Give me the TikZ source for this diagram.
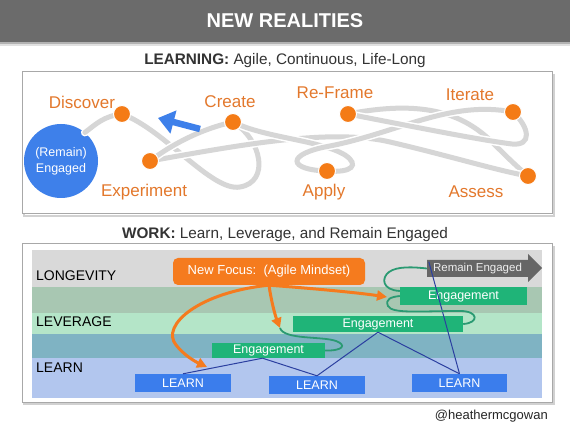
\documentclass[tikz,border=0pt]{standalone}
\usepackage{fontspec}
\setmainfont{Liberation Sans}
\usetikzlibrary{arrows.meta,calc}
\definecolor{barGrey}{HTML}{6B6B6B}
\definecolor{headText}{HTML}{333333}
\definecolor{frameGrey}{HTML}{A8A8A8}
\definecolor{tangleGrey}{HTML}{D6D6D6}
\definecolor{dotOrange}{HTML}{F47B16}
\definecolor{labOrange}{HTML}{E3782C}
\definecolor{engBlue}{HTML}{3E80EA}
\definecolor{bandGrey}{HTML}{D9D9D9}
\definecolor{bandSage}{HTML}{A8C7B2}
\definecolor{bandMint}{HTML}{B4E5C8}
\definecolor{bandTeal}{HTML}{7FB3C3}
\definecolor{bandBlue}{HTML}{B2C6EE}
\definecolor{focusOrange}{HTML}{F57B1E}
\definecolor{arrGrey}{HTML}{666666}
\definecolor{boxGreen}{HTML}{1FB478}
\definecolor{loopGreen}{HTML}{2A9A72}
\definecolor{learnBlue}{HTML}{3B7DEC}
\definecolor{navyLine}{HTML}{2B3FA0}
\begin{document}
\begin{tikzpicture}[x=1pt,y=-1pt,
  tangle/.style={draw=tangleGrey, line width=5pt, line cap=round,
    preaction={draw=white, line width=8pt, line cap=round}},
  dot/.style={circle, fill=dotOrange, draw=white, line width=1pt, minimum size=17pt, inner sep=0pt},
  lab/.style={text=labOrange, font=\fontsize{17}{19}\selectfont, inner sep=0pt},
  frame/.style={draw=frameGrey, line width=1pt, fill=white},
  bandlab/.style={anchor=west, font=\fontsize{14}{16}\selectfont, text=black, inner sep=0pt},
  greenbox/.style={fill=boxGreen, text=white, font=\fontsize{12.5}{14}\selectfont, inner sep=0pt},
  learnbox/.style={fill=learnBlue, text=white, font=\fontsize{12.5}{14}\selectfont, inner sep=0pt,
    minimum width=96pt, minimum height=18pt},
  orangearrow/.style={draw=focusOrange, line width=3pt, -{Triangle[length=10pt,width=10pt]}},
  greenloop/.style={draw=loopGreen, line width=1.8pt},
  navy/.style={draw=navyLine, line width=1pt}
]
\useasboundingbox (0,0) rectangle (570,427);
\fill[white] (0,0) rectangle (570,427);

% title bar
\fill[black!12] (0,42) rectangle (570,46);
\fill[black!30] (0,42) rectangle (570,44);
\fill[barGrey] (0,0) rectangle (570,42);
\node[text=white, font=\fontsize{20}{22}\selectfont\bfseries] (title) at (285,21) {NEW REALITIES};

% learning section
\node[text=headText, font=\fontsize{15.3}{17}\selectfont] (h1) at (285,61) {\textbf{LEARNING:} Agile, Continuous, Life-Long};
\draw[black!18, line width=2pt] (24,75) rectangle (554,216);
\draw[frame] (22,72) rectangle (552,214);

\node[circle, fill=engBlue, minimum size=74pt, inner sep=0pt, align=center, text=white,
  font=\fontsize{12.5}{16}\selectfont] (eng) at (61,161) {(Remain)\\Engaged};

\coordinate (dDiscoverP) at (122,114);
\coordinate (dCreateP) at (233,122);
\coordinate (dExperimentP) at (150,161);
\coordinate (dReframeP) at (348,114);
\coordinate (dIterateP) at (513,112);
\coordinate (dApplyP) at (327,171);
\coordinate (dAssessP) at (528,176);

% tangle of paths
\draw[tangle] (eng.50) .. controls (96,124) and (104,116) .. (dDiscoverP);
\draw[tangle] (dDiscoverP) .. controls (165,130) and (212,192) .. (240,187) .. controls (270,182) and (262,140) .. (dCreateP);
\draw[tangle] (dReframeP) .. controls (420,100) and (460,112) .. (490,140) .. controls (505,155) and (515,165) .. (dAssessP);
\draw[tangle] (dExperimentP) .. controls (240,145) and (330,128) .. (390,142) .. controls (450,156) and (495,170) .. (dAssessP);
\draw[tangle] (dCreateP) .. controls (265,138) and (320,140) .. (345,155) .. controls (360,165) and (352,173) .. (dApplyP);
\draw[tangle] (dIterateP) .. controls (450,100) and (400,132) .. (330,146) .. controls (285,154) and (288,170) .. (dApplyP);
\draw[tangle] (dReframeP) .. controls (420,128) and (480,140) .. (512,144) .. controls (532,146) and (530,128) .. (dIterateP);
\draw[tangle] (dCreateP) .. controls (205,128) and (175,142) .. (dExperimentP);

\node[dot] (dDiscover) at (dDiscoverP) {};
\node[dot] (dCreate) at (dCreateP) {};
\node[dot] (dExperiment) at (dExperimentP) {};
\node[dot] (dReframe) at (dReframeP) {};
\node[dot] (dIterate) at (dIterateP) {};
\node[dot] (dApply) at (dApplyP) {};
\node[dot] (dAssess) at (dAssessP) {};

\node[lab] (lDiscover) at (82,102) {Discover};
\node[lab] (lCreate) at (230,102) {Create};
\node[lab] (lExperiment) at (144,192) {Experiment};
\node[lab] (lReframe) at (335,93) {Re-Frame};
\node[lab] (lIterate) at (470,95) {Iterate};
\node[lab] (lApply) at (324,192) {Apply};
\node[lab] (lAssess) at (476,192) {Assess};

\coordinate (bTail) at (200,129);
\coordinate (bTip) at (158,118);
\draw[engBlue, line width=6.5pt, -{Triangle[length=16pt,width=23pt]}] (bTail) -- (bTip);

% work section
\node[text=headText, font=\fontsize{15.3}{17}\selectfont] (h2) at (285,235) {\textbf{WORK:} Learn, Leverage, and Remain Engaged};
\draw[black!18, line width=2pt] (24,247) rectangle (554,404);
\draw[frame] (22,244) rectangle (552,402);

\fill[bandGrey] (32,250) rectangle (542,287);
\fill[bandSage] (32,287) rectangle (542,313);
\fill[bandMint] (32,313) rectangle (542,334);
\fill[bandTeal] (32,334) rectangle (542,358);
\fill[bandBlue] (32,358) rectangle (542,398);

\node[bandlab] (tLong) at (36,276) {LONGEVITY};
\node[bandlab] (tLev) at (36,322) {LEVERAGE};
\node[bandlab] (tLearn) at (36,368) {LEARN};

\node[fill=focusOrange, rounded corners=5pt, minimum width=192pt, minimum height=27pt, inner sep=0pt,
  text=white, font=\fontsize{13}{15}\selectfont] (focus) at (269,271.5) {New Focus:\ \ (Agile Mindset)};

\fill[arrGrey] (427,260) -- (528,260) -- (528,254) -- (542,268) -- (528,282) -- (528,277) -- (427,277) -- cycle;
\node[minimum width=101pt, minimum height=17pt, inner sep=0pt, text=white!93!black,
  font=\fontsize{11.5}{13}\selectfont] (remain) at (477.5,268.5) {Remain Engaged};

\node[greenbox, minimum width=127pt, minimum height=18pt] (E1) at (463.5,296) {Engagement};
\node[greenbox, minimum width=170pt, minimum height=16pt] (E2) at (378,324) {Engagement};
\node[greenbox, minimum width=113pt, minimum height=15pt] (E3) at (268.5,350.5) {Engagement};

\node[learnbox] (L1) at (183,383) {LEARN};
\node[learnbox] (L2) at (317,385) {LEARN};
\node[learnbox, minimum width=95pt] (L3) at (459.5,383) {LEARN};

% navy lines
\coordinate (vE3) at ($(E3.south)+(-6,0)$);
\draw[navy] (L1.north) -- (vE3);
\draw[navy] (vE3) -- (L2.north);
\draw[navy] (L2.north) -- (E2.south);
\draw[navy] (E2.south) -- (L3.north);
\draw[navy] (L3.north) -- ($(remain.north west)+(2,2)$);

% orange arrows
\coordinate (a1end) at (207,367);
\coordinate (a2end) at (280,328);
\coordinate (a3end) at (387,297);
\draw[orangearrow] (focus.south) .. controls (200,292) and (160,325) .. (176,345) .. controls (184,355) and (194,361) .. (a1end);
\draw[orangearrow] (focus.south) .. controls (271,300) and (275,315) .. (a2end);
\draw[orangearrow] (focus.south) .. controls (320,289) and (360,293) .. (a3end);

% green loops
\draw[greenloop] (a2end) .. controls (284,340) and (322,336) .. (336,341) .. controls (347,345) and (343,351) .. (E3.east);
\draw[greenloop] (E2.east) .. controls (479,323) and (479,311) .. (460,311) .. controls (420,311) and (392,314) .. (388,306) .. controls (385,299) and (391,297) .. (E1.west);
\draw[greenloop] ($(E1.west)+(0,-5)$) .. controls (382,290) and (381,278) .. (389,272) .. controls (397,266) and (414,267) .. (remain.west);

\node[anchor=east, text=black!85, font=\fontsize{13}{15}\selectfont, inner sep=0pt] (credit) at (548,416) {@heathermcgowan};
\end{tikzpicture}
\end{document}
